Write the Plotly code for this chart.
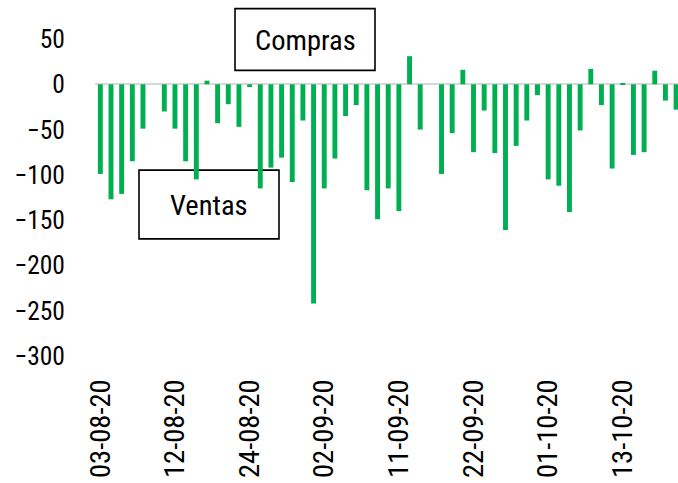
import plotly.graph_objects as go

dates = [
    "03-08-20", "04-08-20", "05-08-20", "06-08-20", "07-08-20",
    "10-08-20", "11-08-20", "12-08-20", "13-08-20", "14-08-20",
    "18-08-20", "19-08-20", "20-08-20", "21-08-20",
    "24-08-20", "25-08-20", "26-08-20", "27-08-20", "28-08-20",
    "31-08-20", "01-09-20", "02-09-20", "03-09-20", "04-09-20",
    "07-09-20", "08-09-20", "09-09-20", "10-09-20", "11-09-20",
    "14-09-20", "15-09-20", "16-09-20", "17-09-20", "18-09-20",
    "21-09-20", "22-09-20", "23-09-20", "24-09-20", "25-09-20",
    "28-09-20", "29-09-20", "30-09-20", "01-10-20", "02-10-20",
    "05-10-20", "06-10-20", "07-10-20", "08-10-20", "09-10-20",
    "13-10-20", "14-10-20", "15-10-20", "16-10-20",
    "19-10-20", "20-10-20",
]

net_flows = [
    -99, -127, -121, -85, -49,
    0, -30, -49, -85, -105,
    4, -43, -22, -47,
    -3, -115, -92, -81, -108,
    -40, -242, -115, -82, -35,
    -23, -117, -149, -115, -140,
    31, -50, 0, -99, -54,
    16, -75, -29, -76, -161,
    -68, -40, -12, -105, -112,
    -141, -51, 17, -23, -93,
    1, -78, -75, 15,
    -18, -28,
]

tick_labels = [dates[i] for i in range(0, len(dates), 7)]
y_ticks = [50, 0, -50, -100, -150, -200, -250, -300]
box_labels = ["Compras", "Ventas"]

FONT = "Liberation Sans Narrow, Arial Narrow, Roboto Condensed, DejaVu Sans Condensed, sans-serif"

fig = go.Figure(
    go.Bar(
        x=dates,
        y=net_flows,
        marker=dict(color="#00B050", line=dict(width=0)),
    )
)

W, H = 678, 483
L, R, T, B = 95, 0, 38.5, 126.5
pw, ph = W - L - R, H - T - B


def px(x):
    return (x - L) / pw


def py(y):
    return (H - B - y) / ph


boxes = [
    (235, 8, 375, 70, box_labels[0]),
    (139, 170, 279, 239, box_labels[1]),
]
shapes = []
annotations = []
for x0, y0, x1, y1, label in boxes:
    shapes.append(dict(
        type="rect", xref="paper", yref="paper",
        x0=px(x0), x1=px(x1), y0=py(y1), y1=py(y0),
        line=dict(color="black", width=1.6), fillcolor="rgba(0,0,0,0)",
        layer="below",
    ))
    annotations.append(dict(
        xref="paper", yref="paper",
        x=px((x0 + x1) / 2), y=py((y0 + y1) / 2 + 1),
        text=label, showarrow=False,
        xanchor="center", yanchor="middle",
        font=dict(family=FONT, size=28.5, color="black"),
    ))

fig.update_layout(
    width=W, height=H,
    margin=dict(l=L, r=R, t=T, b=B, pad=0, autoexpand=False),
    paper_bgcolor="white", plot_bgcolor="white",
    showlegend=False,
    bargap=0.54,
    shapes=shapes,
    annotations=annotations,
    xaxis=dict(
        type="category",
        automargin=False,
        range=[-0.5, 54.18],
        tickmode="array", tickvals=tick_labels, ticktext=tick_labels,
        tickangle=-90,
        tickfont=dict(family=FONT, size=28.5, color="black"),
        showgrid=False, showline=False, zeroline=False,
        ticks="outside", ticklen=11, tickcolor="rgba(0,0,0,0)",
    ),
    yaxis=dict(
        automargin=False,
        range=[-300, 50],
        tickmode="array", tickvals=y_ticks,
        tickfont=dict(family=FONT, size=25.5, color="black"),
        showgrid=False, showline=False,
        zeroline=True, zerolinecolor="#D9D9D9", zerolinewidth=2,
        ticks="outside", ticklen=24, tickcolor="rgba(0,0,0,0)",
    ),
)

fig.write_html(
    "out.html",
    config={"displayModeBar": False},
    post_script="document.body.style.margin='0';document.body.style.overflow='hidden';",
)
